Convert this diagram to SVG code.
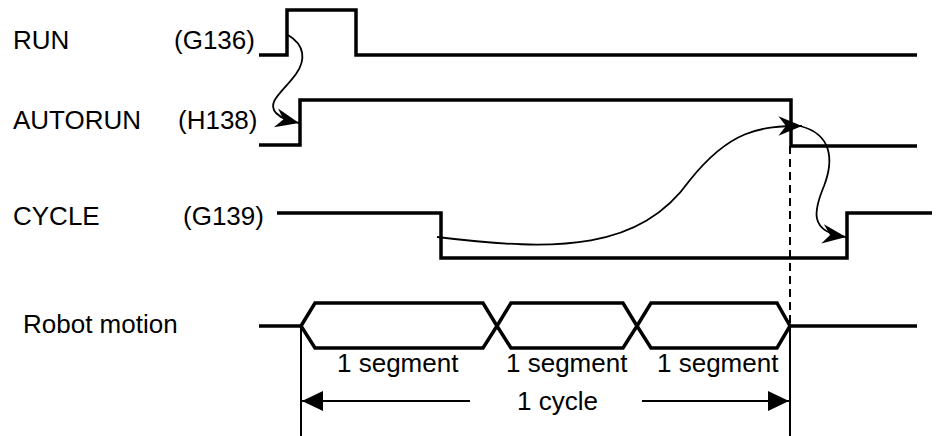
<svg xmlns="http://www.w3.org/2000/svg" width="939" height="436" viewBox="0 0 939 436">
<style>
text{font-family:"Liberation Sans",Arial,sans-serif;font-size:26px;fill:#000}
.sig{fill:none;stroke:#000;stroke-width:3.5;stroke-linejoin:miter}
.thin{fill:none;stroke:#000;stroke-width:2}
.curve{fill:none;stroke:#000;stroke-width:1.8}
</style>
<defs>
<marker id="stealth" markerUnits="userSpaceOnUse" markerWidth="30" markerHeight="30" viewBox="-24 -12 28 24" refX="0" refY="0" orient="auto">
<path d="M0,0 L-22,-9 L-15,0 L-22,9 Z" fill="#000"/>
</marker>
<marker id="tri" markerUnits="userSpaceOnUse" markerWidth="24" markerHeight="24" viewBox="-22 -12 24 24" refX="0" refY="0" orient="auto">
<path d="M0,0 L-21,-10 L-21,10 Z" fill="#000"/>
</marker>
</defs>
<g id="labels">
<text x="13" y="49">RUN</text>
<text x="174" y="49">(G136)</text>
<text x="13" y="129">AUTORUN</text>
<text x="178" y="129">(H138)</text>
<text x="13" y="225">CYCLE</text>
<text x="183" y="225">(G139)</text>
<text x="23" y="333">Robot motion</text>
</g>
<g id="signal-run"><polyline class="sig" points="259,55 287,55 287,10 356,10 356,55 917,55"/></g>
<g id="signal-autorun"><polyline class="sig" points="259,145 300,145 300,100 791,100 791,146 917,146"/></g>
<g id="signal-cycle"><polyline class="sig" points="277,213 441,213 441,258 847,258 847,213 932,213"/></g>
<g id="robot-motion">
<line class="sig" x1="259" y1="326" x2="301" y2="326"/>
<line class="sig" x1="790" y1="326" x2="917" y2="326"/>
<polygon class="sig" points="301,326 315,303 483,303 497,326 483,348 315,348"/>
<polygon class="sig" points="497,326 511,303 623,303 637,326 623,348 511,348"/>
<polygon class="sig" points="637,326 651,303 777,303 790,326 777,348 651,348"/>
<text x="337" y="372">1 segment</text>
<text x="506" y="372">1 segment</text>
<text x="657" y="372">1 segment</text>
</g>
<g id="cycle-dimension">
<line class="thin" x1="301" y1="326" x2="301" y2="436"/>
<line class="thin" x1="790" y1="326" x2="790" y2="436"/>
<line class="thin" x1="470" y1="401" x2="302" y2="401" marker-end="url(#tri)"/>
<line class="thin" x1="642" y1="401" x2="789" y2="401" marker-end="url(#tri)"/>
<text x="517" y="410">1 cycle</text>
</g>
<g id="connectors">
<line class="thin" x1="790" y1="146" x2="790" y2="326" stroke-dasharray="8,5"/>
<path class="curve" d="M288,35 C305,45 306,60 296,74 C283,92 266,102 276,113 C282,119 290,121 299,123" marker-end="url(#stealth)"/>
<path class="curve" d="M437,237 C560,252 640,250 690,180 C730,130 760,126 802,126" marker-end="url(#stealth)"/>
<path class="curve" d="M800,126 C832,134 834,160 824,186 C814,210 808,232 846,237" marker-end="url(#stealth)"/>
</g>
</svg>
